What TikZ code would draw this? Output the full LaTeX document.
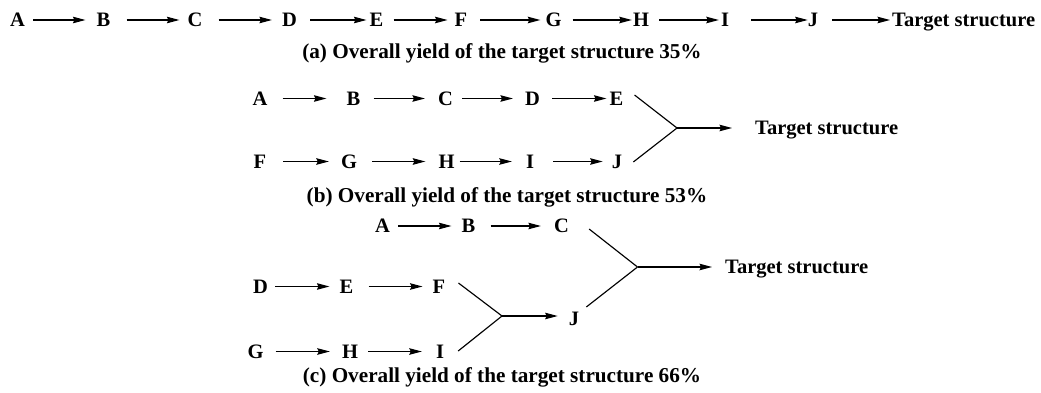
\documentclass[tikz,border=0pt]{standalone}
\usepackage{fontspec}
\setmainfont{Liberation Serif}
\usepackage{tikz}
\usetikzlibrary{arrows.meta, calc}
\tikzset{
  letter/.style={inner sep=0pt, text height=13.5pt, text depth=0pt,
    font=\fontsize{20.5}{24}\selectfont\bfseries},
  target/.style={letter, anchor=west},
  caption/.style={inner sep=0pt, text height=13.9pt, text depth=0pt,
    font=\fontsize{21.2}{25}\selectfont\bfseries},
  arrow/.style={-{Stealth[length=12.5pt, width=6.5pt, inset=1.5pt]}, line width=1.15pt},
  line/.style={line width=1.15pt}
}

\begin{document}
\begin{tikzpicture}[x=1pt, y=-1pt]
  \useasboundingbox (0,0) rectangle (1041,393);

  % ── (a) one linear route ──
  \foreach \n/\x in {A/17.5, B/103.5, C/195, D/289.5, E/376.5, F/461, G/553.5, H/641, I/725, J/813}
    \node[letter] (a\n) at (\x,20) {\n};
  \node[target] (aT) at (892,20) {Target structure};
  \foreach \p/\q/\gapa/\gapb in {A/B/8/11, B/C/16/8, C/D/16/10, D/E/13/3, E/F/10/7,
                                 F/G/13/5, G/H/11/1, H/I/10/2, I/J/22/0, J/T/14/2}
    \draw[arrow, shorten <=\gapa pt, shorten >=\gapb pt] (a\p) -- (a\q);
  \node[caption] (capa) at (502,52) {(a) Overall yield of the target structure 35\%};

  % ── (b) two branches of five ──
  \foreach \n/\x in {A/260, B/353.5, C/445.5, D/532.5, E/616.5}
    \node[letter] (b\n) at (\x,98.5) {\n};
  \foreach \n/\x in {F/260, G/349, H/446.5, I/530, J/617}
    \node[letter] (b\n) at (\x,161.5) {\n};
  \foreach \p/\q/\gapa/\gapb in {A/B/15/20, B/C/13/13, C/D/9/12, D/E/12/3,
                                 F/G/17/12, G/H/15/13, H/I/5/14, I/J/19/9}
    \draw[arrow, shorten <=\gapa pt, shorten >=\gapb pt] (b\p) -- (b\q);
  \coordinate (bm) at (677,128);
  \node[target] (bT) at (755,128) {Target structure};
  \draw[line] (bE.east) ++(11,-3.5) -- (bm);
  \draw[line] (bJ.east) ++(11,0.5) -- (bm);
  \draw[arrow, shorten >=23pt] (bm) -- (bT);
  \node[caption] (capb) at (507,196) {(b) Overall yield of the target structure 53\%};

  % ── (c) three branches, two joins ──
  \foreach \n/\x in {A/382.5, B/468.5, C/561.5}
    \node[letter] (c\n) at (\x,226) {\n};
  \foreach \n/\x in {D/260.5, E/346.5, F/439}
    \node[letter] (c\n) at (\x,286.5) {\n};
  \foreach \n/\x in {G/255.5, H/350, I/440}
    \node[letter] (c\n) at (\x,351.5) {\n};
  \node[letter] (cJ) at (574,318.5) {J};
  \foreach \p/\q/\gapa/\gapb in {A/B/8/10, B/C/15/13, D/E/7/10, E/F/15/10, G/H/12/12, H/I/10/14}
    \draw[arrow, shorten <=\gapa pt, shorten >=\gapb pt] (c\p) -- (c\q);
  \coordinate (cm1) at (502,316);
  \coordinate (cm2) at (637.5,267);
  \draw[line] (cF.east) ++(13,-3.5) -- (cm1);
  \draw[line] (cI.east) ++(14,-0.5) -- (cm1);
  \draw[arrow, shorten >=11pt] (cm1) -- (cm1 -| cJ.west);
  \draw[line] (cC.east) ++(20,3) -- (cm2);
  \draw[line] (cJ.east) ++(7,-11.5) -- (cm2);
  \node[target] (cT) at (725,267) {Target structure};
  \draw[arrow, shorten >=13pt] (cm2) -- (cT);
  \node[caption] (capc) at (502,376) {(c) Overall yield of the target structure 66\%};
\end{tikzpicture}
\end{document}
